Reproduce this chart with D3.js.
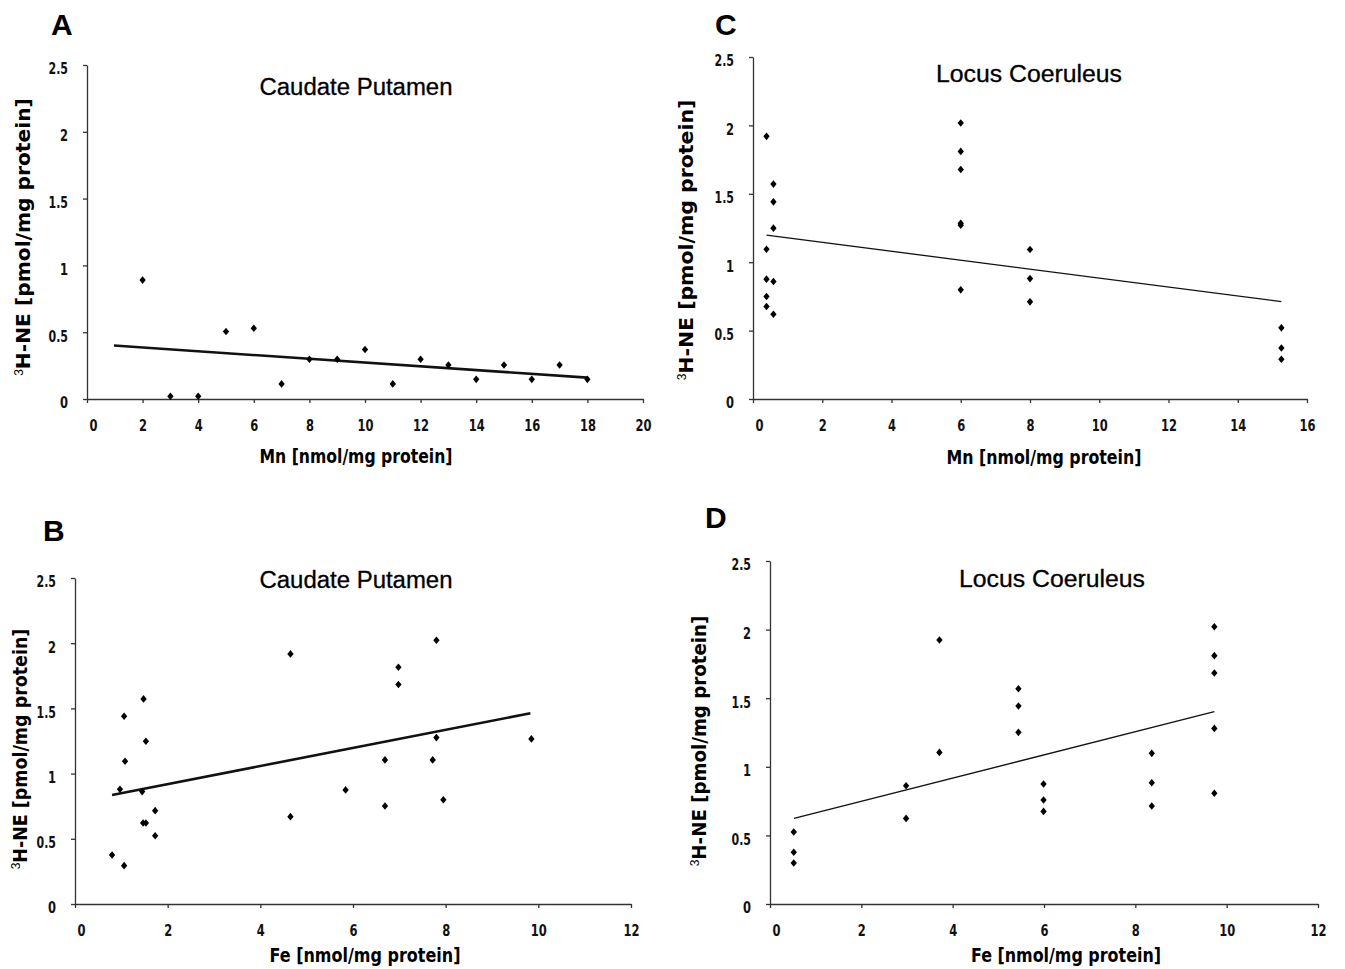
<!DOCTYPE html>
<html>
<head>
<meta charset="utf-8">
<script src="https://cdn.jsdelivr.net/npm/d3@7"></script>
<style>
  body { margin: 0; background: #fff; }
  svg { display: block; }
  .tick text { font-family: "Liberation Sans Narrow", "DejaVu Sans Condensed", "Arial Narrow", sans-serif; font-weight: bold; font-size: 16px; fill: #111; }
  .tick line, .domain { stroke: #333; stroke-width: 1.3; }
</style>
</head>
<body>
<svg width="1345" height="969"></svg>
<script>
"use strict";

// values
const yTicks = [0, 0.5, 1, 1.5, 2, 2.5];

// A: caudate putamen, Mn
const aMn = [2, 3, 4, 5, 6, 7, 8, 9, 10, 11, 12, 13, 14, 15, 16, 17, 18];
const aNE = [0.89, 0.02, 0.02, 0.505, 0.53, 0.113, 0.297, 0.297, 0.37, 0.113, 0.297, 0.255, 0.147, 0.255, 0.147, 0.255, 0.147];
const aTrendX = [0.97, 18];
const aTrendY = [0.40, 0.16];
const aTicks = [0, 2, 4, 6, 8, 10, 12, 14, 16, 18, 20];

// B: caudate putamen, Fe
const bFe = [0.8, 1.06, 0.97, 1.06, 1.08, 1.48, 1.53, 1.45, 1.47, 1.53, 1.73, 1.73, 4.65, 4.65, 5.84, 6.69, 6.69, 6.98, 6.98, 7.80, 7.80, 7.72, 7.95, 9.85];
const bNE = [0.376, 0.294, 0.88, 1.44, 1.095, 1.573, 1.248, 0.862, 0.621, 0.621, 0.716, 0.524, 1.918, 0.670, 0.875, 1.105, 0.752, 1.816, 1.683, 2.023, 1.276, 1.105, 0.80, 1.266];
const bTrendX = [0.8, 9.83];
const bTrendY = [0.836, 1.463];
const bTicks = [0, 2, 4, 6, 8, 10, 12];

// C: locus coeruleus, Mn
const cMn = [0.39, 0.39, 0.39, 0.39, 0.39, 0.59, 0.59, 0.59, 0.59, 0.59, 6, 6, 6, 6, 6, 6, 8, 8, 8, 15.26, 15.26, 15.26];
const cNE = [1.92, 1.095, 0.876, 0.749, 0.676, 1.571, 1.441, 1.249, 0.859, 0.62, 2.017, 1.81, 1.678, 1.27, 1.285, 0.798, 1.093, 0.88, 0.71, 0.52, 0.373, 0.29];
const cTrendX = [0.39, 15.26];
const cTrendY = [1.198, 0.712];
const cTicks = [0, 2, 4, 6, 8, 10, 12, 14, 16];

// D: locus coeruleus, Fe
const dFe = [0.52, 0.52, 0.52, 2.98, 2.98, 3.71, 3.71, 5.44, 5.44, 5.44, 5.99, 5.99, 5.99, 8.36, 8.36, 8.36, 9.73, 9.73, 9.73, 9.73, 9.73];
const dNE = [0.525, 0.377, 0.299, 0.862, 0.624, 1.924, 1.105, 1.569, 1.443, 1.251, 0.875, 0.758, 0.675, 1.098, 0.884, 0.714, 2.021, 1.81, 1.684, 1.28, 0.807];
const dTrendX = [0.525, 9.73];
const dTrendY = [0.624, 1.402];
const dTicks = [0, 2, 4, 6, 8, 10, 12];

const narrow = '"Liberation Sans Narrow", "DejaVu Sans Condensed", "Arial Narrow", sans-serif';
const plain = '"Liberation Sans", Arial, sans-serif';

const panels = [
    { letter: "A", lx: 51, ly: 35, xs: aMn, ys: aNE, tx: aTrendX, ty: aTrendY, ticks: aTicks, trendW: 2.6,
      left: 87, right: 643, bottom: 399, top: 65,
      title: "Caudate Putamen", titleX: 356, titleY: 95, titleW: 193,
      xTitle: "Mn [nmol/mg protein]", xtX: 356, xtY: 463, xtW: 193,
      ytX: 23, ytY: 237, ytW: 279 },
    { letter: "C", lx: 715, ly: 35, xs: cMn, ys: cNE, tx: cTrendX, ty: cTrendY, ticks: cTicks, trendW: 1.3,
      left: 753, right: 1307, bottom: 399, top: 57,
      title: "Locus Coeruleus", titleX: 1029, titleY: 82, titleW: 186,
      xTitle: "Mn [nmol/mg protein]", xtX: 1044, xtY: 464, xtW: 195,
      ytX: 686, ytY: 240, ytW: 282 },
    { letter: "B", lx: 43, ly: 541, xs: bFe, ys: bNE, tx: bTrendX, ty: bTrendY, ticks: bTicks, trendW: 2.6,
      left: 75, right: 631, bottom: 904, top: 578,
      title: "Caudate Putamen", titleX: 356, titleY: 588, titleW: 193,
      xTitle: "Fe [nmol/mg protein]", xtX: 365, xtY: 962, xtW: 191,
      ytX: 20, ytY: 749, ytW: 242 },
    { letter: "D", lx: 705, ly: 528, xs: dFe, ys: dNE, tx: dTrendX, ty: dTrendY, ticks: dTicks, trendW: 1.3,
      left: 770, right: 1318, bottom: 904, top: 561,
      title: "Locus Coeruleus", titleX: 1052, titleY: 587, titleW: 186,
      xTitle: "Fe [nmol/mg protein]", xtX: 1066, xtY: 962, xtW: 190,
      ytX: 699, ytY: 741, ytW: 252 }
];

// small diamond, a bit taller than wide
const diamond = {
    draw(ctx, size) {
        const r = Math.sqrt(size) / 2;
        ctx.moveTo(0, -r * 1.2);
        ctx.lineTo(r, 0);
        ctx.lineTo(0, r * 1.2);
        ctx.lineTo(-r, 0);
        ctx.closePath();
    }
};

// narrow-looking tick labels: fixed width per glyph
function labelWidth(s) {
    let w = 0;
    for (const ch of s) w += ch === "." ? 3.5 : 8;
    return w;
}

const svg = d3.select("svg");
panels.forEach(drawPanel);

function drawPanel(p) {
    const g = svg.append("g");
    const x = d3.scaleLinear()
        .domain([0, p.ticks[p.ticks.length - 1]])
        .range([p.left, p.right]);
    const y = d3.scaleLinear()
        .domain([0, 2.5])
        .range([p.bottom, p.top]);
    const fmt = d3.format("~g");

    g.append("g")
        .attr("transform", `translate(0,${p.bottom})`)
        .call(d3.axisBottom(x).tickValues(p.ticks).tickFormat(fmt)
            .tickSize(4).tickSizeOuter(0).tickPadding(17))
        .call(a => a.selectAll(".tick text")
            .attr("dx", (d, i) => i === 0 ? 6 : 0)
            .attr("textLength", d => labelWidth(fmt(d)))
            .attr("lengthAdjust", "spacingAndGlyphs"));

    g.append("g")
        .attr("transform", `translate(${p.left},0)`)
        .call(d3.axisLeft(y).tickValues(yTicks).tickFormat(fmt)
            .tickSize(4).tickSizeOuter(0).tickPadding(15))
        .call(a => a.selectAll(".tick text")
            .attr("dy", "0.55em")
            .attr("textLength", d => labelWidth(fmt(d)))
            .attr("lengthAdjust", "spacingAndGlyphs"));

    // trend line
    const pts = p.tx.map((v, i) => [x(v), y(p.ty[i])]);
    g.append("path")
        .attr("d", d3.line()(pts))
        .attr("fill", "none")
        .attr("stroke", "#111")
        .attr("stroke-width", p.trendW);

    // data points
    const sym = d3.symbol().type(diamond).size(40);
    g.selectAll(".pt")
        .data(p.xs.map((v, i) => [v, p.ys[i]]))
        .enter().append("path")
        .attr("class", "pt")
        .attr("transform", d => `translate(${x(d[0])},${y(d[1])})`)
        .attr("d", sym)
        .attr("fill", "#000");

    // texts
    g.append("text")
        .attr("x", p.lx).attr("y", p.ly)
        .attr("font-family", plain).attr("font-weight", "bold")
        .attr("font-size", 30)
        .text(p.letter);

    g.append("text")
        .attr("x", p.titleX).attr("y", p.titleY)
        .attr("text-anchor", "middle")
        .attr("font-family", plain).attr("font-size", 23)
        .attr("stroke", "#000").attr("stroke-width", 0.3)
        .attr("textLength", p.titleW).attr("lengthAdjust", "spacingAndGlyphs")
        .text(p.title);

    g.append("text")
        .attr("x", p.xtX).attr("y", p.xtY)
        .attr("text-anchor", "middle")
        .attr("font-family", narrow).attr("font-weight", "bold")
        .attr("font-size", 20)
        .attr("textLength", p.xtW).attr("lengthAdjust", "spacingAndGlyphs")
        .text(p.xTitle);

    const yt = g.append("text")
        .attr("transform", `translate(${p.ytX + 7},${p.ytY}) rotate(-90)`)
        .attr("text-anchor", "middle")
        .attr("font-family", narrow).attr("font-weight", "bold")
        .attr("font-size", 20);
    yt.append("tspan")
        .attr("font-size", 12).attr("font-weight", "normal")
        .attr("font-family", plain)
        .attr("dy", -7)
        .text("3");
    yt.append("tspan")
        .attr("dy", 7)
        .attr("textLength", p.ytW - 8).attr("lengthAdjust", "spacingAndGlyphs")
        .text("H-NE [pmol/mg protein]");
}
</script>
</body>
</html>
